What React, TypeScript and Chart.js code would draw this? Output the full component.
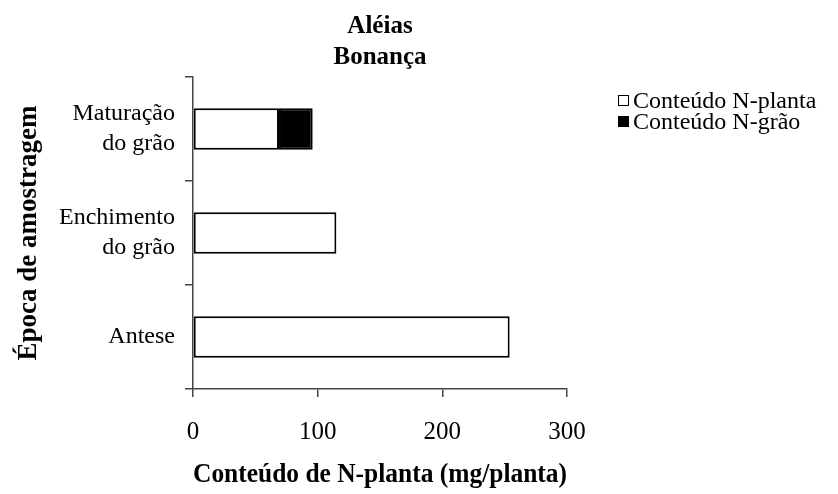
import React, { useEffect, useRef } from "react";
import { Chart, registerables } from "chart.js";

Chart.register(...registerables);

const categories: (string | string[])[] = [["Maturação", "do grão"], ["Enchimento", "do grão"], "Antese"];
const nPlanta = [69, 115, 254];
const nGrao = [27, null, null];
const xTicks = [0, 100, 200, 300];
const titleLines = ["Aléias", "Bonança"];
const legendLabels = ["Conteúdo N-planta", "Conteúdo N-grão"];
const xTitle = "Conteúdo de N-planta (mg/planta)";
const yTitle = "Época de amostragem";

const FONT = "'Liberation Serif', 'Times New Roman', serif";
const AXIS = "#444";

const overlay = {
  id: "overlay",
  afterDraw(chart: any) {
    const { ctx, chartArea } = chart;
    ctx.save();
    ctx.fillStyle = "#000";
    ctx.textAlign = "center";
    ctx.textBaseline = "alphabetic";
    ctx.font = `bold 25px ${FONT}`;
    const cx = (chartArea.left + chartArea.right) / 2;
    ctx.fillText(titleLines[0], cx, 33);
    ctx.fillText(titleLines[1], cx, 64);

    // legend
    ctx.font = `24px ${FONT}`;
    ctx.textAlign = "left";
    const rows = [
      { y: 95, base: 108, fill: "#fff" },
      { y: 116, base: 129, fill: "#000" },
    ];
    rows.forEach((r, i) => {
      ctx.fillStyle = r.fill;
      ctx.fillRect(618, r.y, 11, 11);
      ctx.strokeStyle = "#000";
      ctx.lineWidth = 1;
      ctx.strokeRect(618.5, r.y + 0.5, 10, 10);
      ctx.fillStyle = "#000";
      ctx.fillText(legendLabels[i], 633, r.base);
    });
    ctx.restore();
  },
};

export default function App() {
  const ref = useRef<HTMLCanvasElement>(null);
  useEffect(() => {
    if (!ref.current) return;
    const chart = new Chart(ref.current, {
      type: "bar",
      data: {
        labels: categories as any,
        datasets: [
          {
            label: legendLabels[0],
            data: nPlanta,
            backgroundColor: "#fff",
            borderColor: "#000",
            borderWidth: 2,
            borderSkipped: false,
            barPercentage: 0.4,
            categoryPercentage: 1,
          },
          {
            label: legendLabels[1],
            data: nGrao as any,
            backgroundColor: "#000",
            borderColor: "#000",
            borderWidth: 2,
            borderSkipped: false,
            barPercentage: 0.4,
            categoryPercentage: 1,
          },
        ],
      },
      options: {
        indexAxis: "y",
        animation: false,
        responsive: false,
        maintainAspectRatio: false,
        layout: { padding: { top: 77, right: 271, bottom: 0, left: 0 } },
        plugins: {
          legend: { display: false },
          title: { display: false },
          tooltip: { enabled: false },
        },
        scales: {
          x: {
            stacked: true,
            min: 0,
            max: 300,
            afterBuildTicks: (s: any) => {
              s.ticks = xTicks.map((v) => ({ value: v }));
            },
            ticks: {
              font: { family: FONT, size: 25 },
              color: "#000",
              padding: 20,
              maxRotation: 0,
              autoSkip: false,
            },
            grid: {
              drawOnChartArea: false,
              drawTicks: true,
              tickLength: 8,
              color: AXIS,
              lineWidth: 1.5,
            },
            border: { display: true, color: AXIS, width: 1.5 },
            title: {
              display: true,
              text: xTitle,
              font: { family: FONT, size: 27, weight: "bold" },
              color: "#000",
              padding: { top: 0, bottom: 3 },
            },
            afterFit: (s: any) => {
              s.height = 105;
            },
          } as any,
          y: {
            stacked: true,
            grid: {
              offset: true,
              drawOnChartArea: false,
              drawTicks: true,
              tickLength: 8,
              color: AXIS,
              lineWidth: 1.5,
            },
            border: { display: true, color: AXIS, width: 1.5 },
            ticks: {
              font: { family: FONT, size: 24, lineHeight: 1.25 },
              color: "#000",
              padding: 10,
            },
            title: {
              display: true,
              text: yTitle,
              font: { family: FONT, size: 27, weight: "bold" },
              color: "#000",
              padding: { top: 13, bottom: 0 },
            },
            afterFit: (s: any) => {
              s.width = 193;
            },
          } as any,
        },
      },
      plugins: [overlay],
    });
    return () => chart.destroy();
  }, []);
  return (
    <div style={{ position: "absolute", left: 0, top: 0, width: 838, height: 494, background: "#fff" }}>
      <canvas ref={ref} width={838} height={494} style={{ display: "block" }} />
    </div>
  );
}
